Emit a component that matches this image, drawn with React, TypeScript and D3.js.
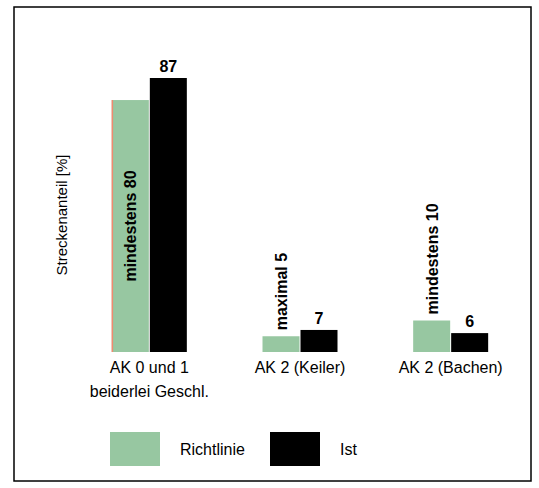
import React from 'react';
import * as d3 from 'd3';

const categories = ['AK 0 und 1|beiderlei Geschl.', 'AK 2 (Keiler)', 'AK 2 (Bachen)'];
const richtlinie = [80, 5, 10];
const richtLabels = ['mindestens 80', 'maximal 5', 'mindestens 10'];
const ist = [87, 7, 6];

const W = 539;
const H = 488;

export default function App() {
  const x = d3.scaleBand<string>().domain(categories).range([74, 526]).paddingInner(0.5).paddingOuter(0.25);
  const y = d3.scaleLinear().domain([0, 87]).range([352, 78]);
  const bw = 37;
  const font = 'Liberation Sans, Arial, sans-serif';

  return (
    <svg width={W} height={H} style={{ position: 'absolute', left: 0, top: 0 }} fontFamily={font}>
      <rect x={14} y={7} width={517} height={474} fill="white" stroke="black" strokeWidth={1.5} />
      <text transform="translate(67,215) rotate(-90)" textAnchor="middle" fontSize={15}>Streckenanteil [%]</text>
      {categories.map((c, i) => {
        const cx = x(c)! + x.bandwidth() / 2;
        const g0 = cx - bw - 0.5;
        const b0 = cx + 0.5;
        const yg = y(richtlinie[i]);
        const yb = y(ist[i]);
        const inside = richtlinie[i] > 50;
        return (
          <g key={c}>
            <rect x={g0} y={yg} width={bw} height={y(0) - yg} fill="#97c7a1" />
            {i === 0 && <line x1={g0 + 0.5} x2={g0 + 0.5} y1={yg} y2={y(0)} stroke="#f08a70" strokeWidth={1.5} />}
            <rect x={b0} y={yb} width={bw} height={y(0) - yb} fill="black" />
            <text x={b0 + bw / 2} y={yb - 6} textAnchor="middle" fontSize={16} fontWeight="bold">{ist[i]}</text>
            {inside ? (
              <text transform={`translate(${g0 + bw / 2 + 6},${(yg + y(0)) / 2}) rotate(-90)`} textAnchor="middle" fontSize={16} fontWeight="bold">{richtLabels[i]}</text>
            ) : (
              <text transform={`translate(${g0 + bw / 2 + 6},${yg - 6}) rotate(-90)`} textAnchor="start" fontSize={16} fontWeight="bold">{richtLabels[i]}</text>
            )}
            {c.split('|').map((line, k) => (
              <text key={k} x={cx} y={373 + k * 24} textAnchor="middle" fontSize={16}>{line}</text>
            ))}
          </g>
        );
      })}
      <rect x={110} y={432} width={50} height={34} fill="#97c7a1" />
      <text x={180} y={455} fontSize={16}>Richtlinie</text>
      <rect x={270} y={432} width={50} height={34} fill="black" />
      <text x={340} y={455} fontSize={16}>Ist</text>
    </svg>
  );
}
